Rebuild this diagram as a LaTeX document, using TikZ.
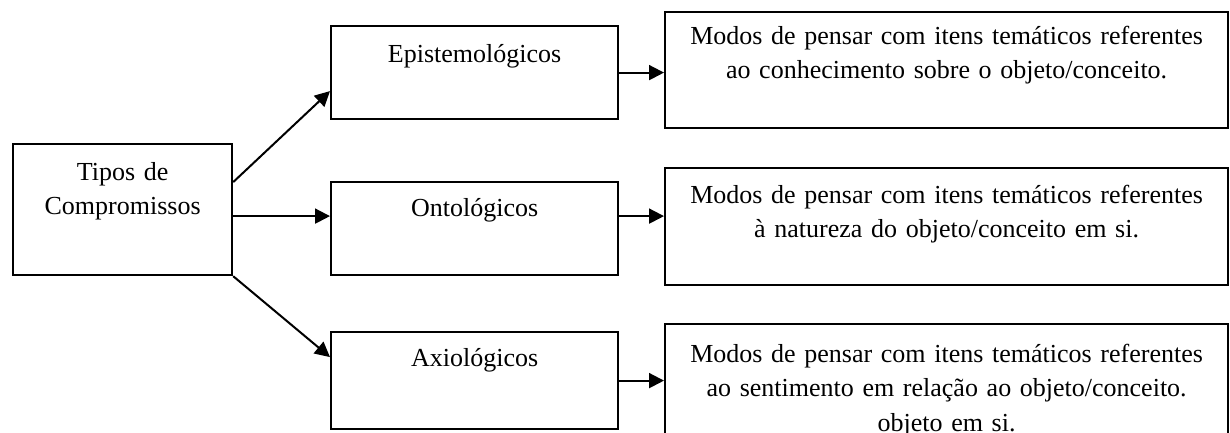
\documentclass[tikz,border=0pt]{standalone}
\usepackage{fontspec}
\setmainfont{Liberation Serif}
\usetikzlibrary{arrows.meta, positioning, calc}

\begin{document}
\begin{tikzpicture}[
    x=1pt, y=-1pt,
    box/.style={rectangle, draw, line width=2.2pt, inner sep=0pt, anchor=north west, align=center, font=\fontsize{26}{34.5}\selectfont},
    arr/.style={line width=2pt, -{Triangle[length=15pt, width=15pt]}}
]
\useasboundingbox (0,0) rectangle (1230,433);
\clip (0,0) rectangle (1230,433);
% left box
\node[box, text width=219pt, text height=36pt, text depth=95pt] (tipos) at (12,143) {Tipos de\\Compromissos};
% middle column
\node[box, text width=287pt, text height=36pt, text depth=57pt] (epi) at (330,25) {Epistemológicos};
\node[box, text width=287pt, text height=34pt, text depth=59pt] (onto) at (330,181) {Ontológicos};
\node[box, text width=287pt, text height=34pt, text depth=63pt] (axio) at (330,331) {Axiológicos};
% right column
\node[box, text width=563pt, text height=32pt, text depth=84pt] (rone) at (664,11) {Modos de pensar com itens temáticos referentes\\ao conhecimento sobre o objeto/conceito.};
\node[box, text width=563pt, text height=35pt, text depth=82pt] (rtwo) at (664,167) {Modos de pensar com itens temáticos referentes\\à natureza do objeto/conceito em si.};
\node[box, text width=563pt, text height=38pt, text depth=140pt] (rthree) at (664,323) {Modos de pensar com itens temáticos referentes\\ao sentimento em relação ao objeto/conceito.\\objeto em si.};
% arrows
\draw[arr] ([yshift=27.5pt]tipos.east) -- ([yshift=-18.5pt]epi.west);
\draw[arr] ([yshift=-6.5pt]tipos.east) -- ([yshift=-6.5pt]tipos.east -| onto.west);
\draw[arr] (tipos.south east) -- ([yshift=23.5pt]axio.west);
\draw[arr] (epi.east) -- (epi.east -| rone.west);
\draw[arr] ([yshift=12.5pt]onto.east) -- ([yshift=12.5pt]onto.east -| rtwo.west);
\draw[arr] (axio.east) -- (axio.east -| rthree.west);
\end{tikzpicture}
\end{document}
